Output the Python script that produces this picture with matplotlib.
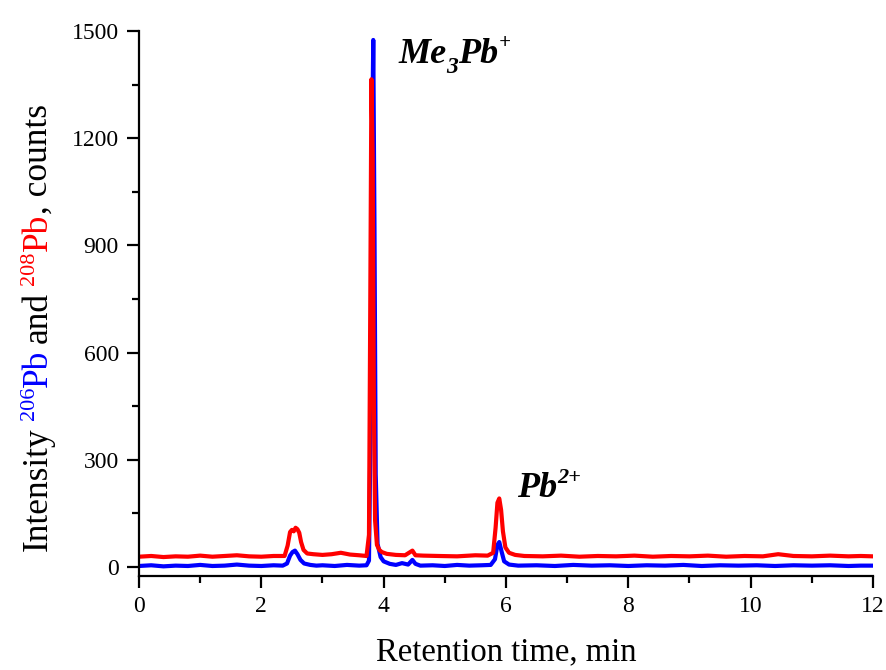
import matplotlib
matplotlib.use("Agg")
import matplotlib.pyplot as plt

# retention time (min) and intensity (counts)
t_206 = [0.0, 0.2, 0.4, 0.6, 0.8, 1.0, 1.2, 1.4, 1.6, 1.8, 2.0, 2.2, 2.35,
         2.42, 2.47, 2.51, 2.55, 2.59, 2.64, 2.70, 2.8, 2.9, 3.0, 3.2, 3.4,
         3.6, 3.72, 3.76, 3.79, 3.81, 3.83, 3.85, 3.87, 3.90, 3.95, 4.0, 4.1,
         4.2, 4.3, 4.4, 4.47, 4.52, 4.6, 4.8, 5.0, 5.2, 5.4, 5.6, 5.75, 5.82,
         5.86, 5.89, 5.93, 5.97, 6.05, 6.2, 6.5, 6.8, 7.1, 7.4, 7.7, 8.0,
         8.3, 8.6, 8.9, 9.2, 9.5, 9.8, 10.1, 10.4, 10.7, 11.0, 11.3, 11.6,
         11.8, 12.0]
i_206 = [3, 5, 2, 4, 3, 6, 3, 4, 7, 4, 3, 5, 4,
         10, 32, 42, 46, 36, 20, 10, 6, 4, 5, 3, 6,
         4, 5, 18, 450, 1150, 1475, 950, 260, 65, 28, 16, 9,
         6, 11, 7, 20, 9, 4, 5, 3, 6, 4, 5, 6, 22,
         62, 70, 42, 16, 7, 4, 5, 3, 6, 4, 5, 3,
         5, 4, 6, 3, 5, 4, 5, 3, 5, 4, 5, 3,
         4, 4]

t_208 = [0.0, 0.2, 0.4, 0.6, 0.8, 1.0, 1.2, 1.4, 1.6, 1.8, 2.0, 2.2, 2.38,
         2.43, 2.47, 2.50, 2.53, 2.56, 2.59, 2.62, 2.65, 2.69, 2.75, 2.85,
         3.0, 3.15, 3.3, 3.45, 3.6, 3.72, 3.76, 3.78, 3.80, 3.82, 3.84, 3.86,
         3.89, 3.93, 3.97, 4.05, 4.2, 4.35, 4.47, 4.52, 4.65, 4.9, 5.2, 5.5,
         5.7, 5.79, 5.83, 5.86, 5.89, 5.92, 5.95, 5.99, 6.05, 6.15, 6.3, 6.6,
         6.9, 7.2, 7.5, 7.8, 8.1, 8.4, 8.7, 9.0, 9.3, 9.6, 9.9, 10.2, 10.45,
         10.7, 11.0, 11.3, 11.6, 11.8, 12.0]
i_208 = [29, 31, 28, 30, 29, 32, 29, 31, 33, 30, 29, 31, 31,
         60, 98, 104, 100, 110, 106, 96, 70, 48, 38, 36,
         34, 36, 40, 35, 33, 31, 90, 700, 1365, 1150, 450, 130,
         62, 48, 42, 37, 34, 33, 46, 33, 32, 31, 30, 33,
         32, 40, 110, 180, 192, 160, 100, 55, 40, 34, 31, 30,
         32, 29, 31, 30, 32, 29, 31, 30, 32, 29, 31, 30, 36,
         31, 30, 32, 30, 31, 30]

x_ticks = [0, 2, 4, 6, 8, 10, 12]
y_ticks = [0, 300, 600, 900, 1200, 1500]

plt.rcParams['font.family'] = ['Liberation Serif', 'DejaVu Serif']

fig = plt.figure(figsize=(8.87, 6.70), dpi=100)
ax = fig.add_axes([0.1567, 0.1403, 0.8275, 0.8134])

ax.plot(t_206, i_206, color='#0000FF', lw=3, solid_joinstyle='round')
ax.plot(t_208, i_208, color='#FF0000', lw=3, solid_joinstyle='round')

ax.set_xlim(0, 12)
ax.set_ylim(-25, 1500)
ax.set_xticks(x_ticks)
ax.set_xticks([1, 3, 5, 7, 9, 11], minor=True)
ax.set_yticks(y_ticks)
ax.set_yticks([150, 450, 750, 1050, 1350], minor=True)
ax.spines['top'].set_visible(False)
ax.spines['right'].set_visible(False)
for s in ('left', 'bottom'):
    ax.spines[s].set_linewidth(1.6)
ax.tick_params(which='major', direction='out', length=8.5, width=1.6,
               labelsize=17, pad=6)
ax.tick_params(which='minor', direction='out', length=5, width=1.6)
ax.set_xlabel('Retention time, min', fontsize=23.5, labelpad=14)

fig.canvas.draw()
renderer = fig.canvas.get_renderer()


def place_pieces(pieces, x0, y0, vertical=False):
    """Lay text pieces one after another (in pixels), optionally rotated 90."""
    pos = 0.0
    for text, size, color, shift, style, weight, gap in pieces:
        if vertical:
            x, y = x0 - shift, y0 + pos
        else:
            x, y = x0 + pos, y0 + shift
        t = fig.text(x / fig.bbox.width, y / fig.bbox.height, text,
                     fontsize=size, color=color, style=style, weight=weight,
                     rotation=90 if vertical else 0, rotation_mode='anchor',
                     ha='left', va='baseline')
        bb = t.get_window_extent(renderer)
        pos += (bb.height if vertical else bb.width) + gap


H = fig.bbox.height
ylabel = [
    ('Intensity', 25.5, 'black', 0, 'normal', 'normal', 7),
    ('206', 16, '#0000FF', 13, 'normal', 'normal', 0),
    ('Pb', 25.5, '#0000FF', 0, 'normal', 'normal', 7),
    ('and', 25.5, 'black', 0, 'normal', 'normal', 7),
    ('208', 16, '#FF0000', 13, 'normal', 'normal', 0),
    ('Pb', 25.5, '#FF0000', 0, 'normal', 'normal', 0),
    (', counts', 25.5, 'black', 0, 'normal', 'normal', 0),
]
place_pieces(ylabel, 47, H - 551, vertical=True)

label_me = [
    ('Me', 26, 'black', 0, 'italic', 'bold', 0),
    ('3', 17, 'black', -10, 'italic', 'bold', 0),
    ('Pb', 26, 'black', 0, 'italic', 'bold', 0),
    ('+', 15, 'black', 15, 'italic', 'bold', 0),
]
place_pieces(label_me, 398, H - 63)

label_pb = [
    ('Pb', 26, 'black', 0, 'italic', 'bold', 0),
    ('2+', 16, 'black', 14, 'italic', 'bold', 0),
]
place_pieces(label_pb, 517, H - 497)

fig.savefig('out.png', dpi=100)
